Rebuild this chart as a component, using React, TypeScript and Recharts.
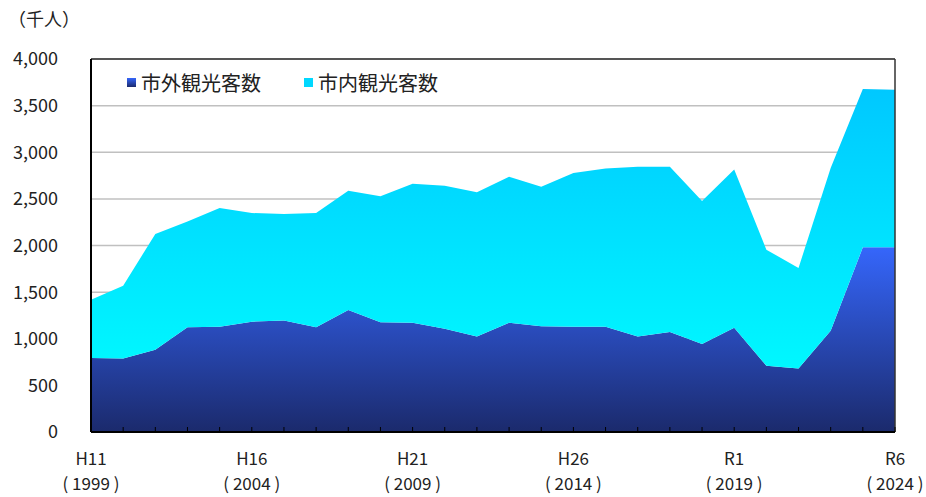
import React from "react";
import { AreaChart, Area, XAxis, YAxis, CartesianGrid, ReferenceLine } from "recharts";

const years = ["1999","2000","2001","2002","2003","2004","2005","2006","2007","2008","2009","2010","2011","2012","2013","2014","2015","2016","2017","2018","2019","2020","2021","2022","2023","2024"];
const eraLabels = ["H11","","","","","H16","","","","","H21","","","","","H26","","","","","R1","","","","","R6"];
const outsideVisitors = [793,789,883,1122,1129,1183,1197,1122,1308,1176,1172,1108,1025,1172,1133,1129,1129,1025,1072,944,1118,711,682,1086,1980,1980];
const totalVisitors = [1419,1569,2123,2258,2402,2348,2338,2348,2588,2527,2663,2641,2570,2738,2631,2777,2827,2845,2845,2477,2816,1955,1759,2831,3678,3671];
const yTicks = [0,500,1000,1500,2000,2500,3000,3500,4000];

const data = years.map((y, i) => ({
  year: y,
  era: eraLabels[i],
  outside: outsideVisitors[i],
  inside: totalVisitors[i] - outsideVisitors[i],
}));

const FONT = "'Noto Sans CJK JP', 'Noto Sans', sans-serif";

const XTick = (props: any) => {
  const { x, y, payload } = props;
  const idx = payload.index;
  const era = eraLabels[idx];
  return (
    <g>
      <line x1={x} x2={x} y1={y - 5} y2={y} stroke="#000" strokeWidth={1} />
      {era ? (
        <text x={x} y={y} textAnchor="middle" fontFamily={FONT} fontSize={17} fill="#222">
          <tspan x={x} dy={33}>{era}</tspan>
          <tspan x={x} dy={25}>{"( " + payload.value + " )"}</tspan>
        </text>
      ) : null}
    </g>
  );
};

export default function App() {
  return (
    <div style={{ position: "absolute", left: 0, top: 0, width: 926, height: 497, background: "#fff" }}>
      <AreaChart width={926} height={497} data={data} margin={{ top: 59, right: 31, left: 0, bottom: 0 }}>
        <defs>
          <linearGradient id="gOut" x1="0" y1="0" x2="0" y2="1">
            <stop offset="0%" stopColor="#3566fb" />
            <stop offset="100%" stopColor="#1b2a6c" />
          </linearGradient>
          <linearGradient id="gIn" x1="0" y1="0" x2="0" y2="1">
            <stop offset="0%" stopColor="#00c8ff" />
            <stop offset="100%" stopColor="#00f8ff" />
          </linearGradient>
        </defs>
        <CartesianGrid horizontal vertical={false} stroke="#c0c0c0" strokeWidth={1.5} />
        <XAxis
          dataKey="year"
          interval={0}
          tickSize={0}
          tickMargin={0}
          height={65}
          tick={<XTick />}
          axisLine={{ stroke: "#000", strokeWidth: 2 }}
          tickLine={false}
        />
        <YAxis
          domain={[0, 4000]}
          ticks={yTicks}
          width={91}
          tickLine={false}
          tickMargin={27}
          axisLine={{ stroke: "#000", strokeWidth: 2 }}
          tickFormatter={(v: number) => v.toLocaleString("en-US")}
          tick={{ fontFamily: FONT, fontSize: 18, fill: "#222" }}
        />
        <Area type="linear" dataKey="outside" stackId="a" stroke="none" fill="url(#gOut)" fillOpacity={1} isAnimationActive={false} />
        <Area type="linear" dataKey="inside" stackId="a" stroke="none" fill="url(#gIn)" fillOpacity={1} isAnimationActive={false} />
        <ReferenceLine y={4000} stroke="#555" strokeWidth={2} />
        <ReferenceLine x="2024" stroke="#333" strokeWidth={1.5} />
      </AreaChart>
      <div style={{ position: "absolute", left: 8, top: 5, fontFamily: FONT, fontSize: 18, color: "#222" }}>（千人）</div>
      <div style={{ position: "absolute", left: 127, top: 68, display: "flex", alignItems: "center", fontFamily: FONT, fontSize: 20, color: "#222" }}>
        <span style={{ display: "inline-block", width: 9, height: 9, background: "linear-gradient(#3566fb,#1b2a6c)", marginRight: 5 }} />
        <span>市外観光客数</span>
        <span style={{ display: "inline-block", width: 9, height: 9, background: "#00d8ff", marginLeft: 43, marginRight: 5 }} />
        <span>市内観光客数</span>
      </div>
    </div>
  );
}
